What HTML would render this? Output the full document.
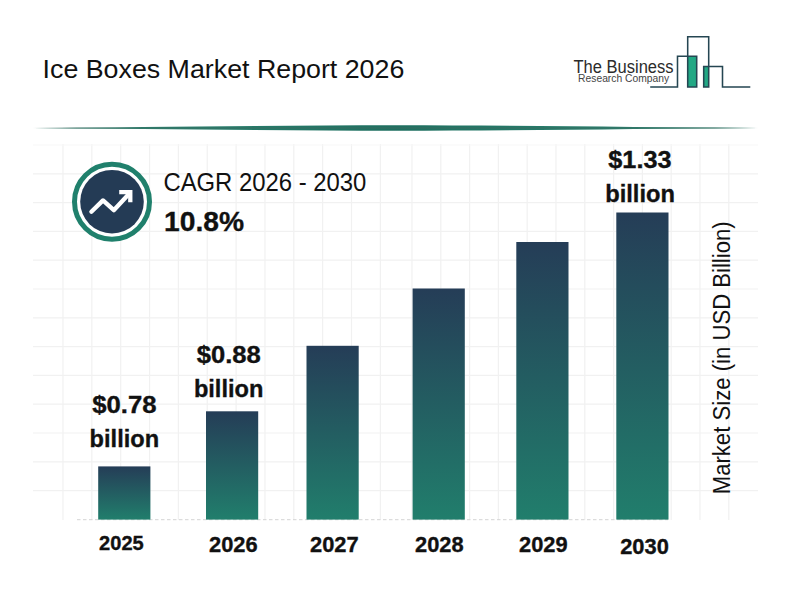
<!DOCTYPE html>
<html><head><meta charset="utf-8">
<style>
html,body{margin:0;padding:0;background:#fff;}
body{width:800px;height:600px;overflow:hidden;font-family:"Liberation Sans",sans-serif;}
svg{display:block;}
text{font-family:"Liberation Sans",sans-serif;fill:#111;}
.b{font-weight:700;stroke:#111;stroke-width:0.35px;}
</style></head><body>
<svg width="800" height="600" viewBox="0 0 800 600">
<defs>
<linearGradient id="bg" x1="0" y1="0" x2="0" y2="1">
<stop offset="0" stop-color="#253d57"/>
<stop offset="1" stop-color="#217e6c"/>
</linearGradient>
<linearGradient id="hl" x1="0" y1="0" x2="1" y2="0">
<stop offset="0" stop-color="#2f8a76"/>
<stop offset="0.5" stop-color="#1f6f60"/>
<stop offset="1" stop-color="#2f8a76"/>
</linearGradient>
<linearGradient id="hl2" x1="0" y1="0" x2="1" y2="0">
<stop offset="0" stop-color="#3a6b60" stop-opacity="0"/>
<stop offset="0.06" stop-color="#3a6b60" stop-opacity="0.9"/>
<stop offset="0.94" stop-color="#3a6b60" stop-opacity="0.9"/>
<stop offset="1" stop-color="#3a6b60" stop-opacity="0"/>
</linearGradient>
</defs>
<rect width="800" height="600" fill="#fff"/>
<g stroke="#f1f1f1" stroke-width="1.2" fill="none">
<line x1="63.00" y1="144" x2="63.00" y2="520"/>
<line x1="91.85" y1="144" x2="91.85" y2="520"/>
<line x1="120.70" y1="144" x2="120.70" y2="520"/>
<line x1="149.55" y1="144" x2="149.55" y2="520"/>
<line x1="178.40" y1="144" x2="178.40" y2="520"/>
<line x1="207.25" y1="144" x2="207.25" y2="520"/>
<line x1="236.10" y1="144" x2="236.10" y2="520"/>
<line x1="264.95" y1="144" x2="264.95" y2="520"/>
<line x1="293.80" y1="144" x2="293.80" y2="520"/>
<line x1="322.65" y1="144" x2="322.65" y2="520"/>
<line x1="351.50" y1="144" x2="351.50" y2="520"/>
<line x1="380.35" y1="144" x2="380.35" y2="520"/>
<line x1="412.00" y1="144" x2="412.00" y2="520"/>
<line x1="440.80" y1="144" x2="440.80" y2="520"/>
<line x1="469.60" y1="144" x2="469.60" y2="520"/>
<line x1="498.40" y1="144" x2="498.40" y2="520"/>
<line x1="527.20" y1="144" x2="527.20" y2="520"/>
<line x1="556.00" y1="144" x2="556.00" y2="520"/>
<line x1="584.80" y1="144" x2="584.80" y2="520"/>
<line x1="613.60" y1="144" x2="613.60" y2="520"/>
<line x1="642.40" y1="144" x2="642.40" y2="520"/>
<line x1="671.20" y1="144" x2="671.20" y2="520"/>
<line x1="700.00" y1="144" x2="700.00" y2="520"/>
<line x1="728.80" y1="144" x2="728.80" y2="520"/>
<line x1="33" y1="145.00" x2="758" y2="145.00" stroke="#f8f8f8"/>
<line x1="33" y1="173.80" x2="758" y2="173.80"/>
<line x1="33" y1="202.60" x2="758" y2="202.60"/>
<line x1="33" y1="231.40" x2="758" y2="231.40"/>
<line x1="33" y1="260.20" x2="758" y2="260.20"/>
<line x1="33" y1="289.00" x2="758" y2="289.00"/>
<line x1="33" y1="317.80" x2="758" y2="317.80"/>
<line x1="33" y1="346.60" x2="758" y2="346.60"/>
<line x1="33" y1="375.40" x2="758" y2="375.40"/>
<line x1="33" y1="404.20" x2="758" y2="404.20"/>
<line x1="33" y1="433.00" x2="758" y2="433.00"/>
<line x1="33" y1="461.80" x2="758" y2="461.80"/>
<line x1="33" y1="490.60" x2="758" y2="490.60"/>
</g>
<!-- header line -->
<path d="M33,128 C150,127.2 280,125.2 396,125.2 C512,125.2 640,127.2 758,128 C640,128.8 512,130.8 396,130.8 C280,130.8 150,128.8 33,128 Z" fill="url(#hl)"/>
<rect x="33" y="127.55" width="725" height="0.9" fill="url(#hl2)"/>
<!-- title -->
<text x="42.6" y="78" font-size="26.5" textLength="361.7" lengthAdjust="spacingAndGlyphs">Ice Boxes Market Report 2026</text>
<!-- logo -->
<g fill="none" stroke="#254652" stroke-width="1.55" stroke-linejoin="miter">
<rect x="687.7" y="56.3" width="9" height="30.7" fill="#22a884" stroke="none"/>
<rect x="703.7" y="66.5" width="5" height="20.5" fill="#22a884" stroke="none"/>
<path d="M650.2,87 H677.5 V56.2 H696.7 V87 H687.7 V36.8 H708.7 V87 H703.7 V66.5 H722.5 V87 H750.3"/>
</g>
<text x="573.5" y="72.6" font-size="17.5" textLength="100" lengthAdjust="spacingAndGlyphs" style="fill:#2b2b2b">The Business</text>
<text x="578.1" y="82" font-size="10.2" textLength="91" lengthAdjust="spacingAndGlyphs" style="fill:#444">Research Company</text>
<!-- icon -->
<circle cx="112" cy="201.7" r="37.5" fill="#fff" stroke="#20806c" stroke-width="5"/>
<circle cx="112" cy="201.7" r="31.8" fill="#243b55"/>
<g fill="none" stroke="#fff" stroke-width="4.3">
<polyline points="91.4,211.8 103,200.4 113.8,210.2 128.9,194" stroke-linecap="round" stroke-linejoin="round"/>
<polyline points="119.2,192.2 130.3,192.2 130.3,202.3" stroke-linecap="butt" stroke-linejoin="miter"/>
</g>
<!-- CAGR -->
<text x="163.4" y="191" font-size="25.3" textLength="203" lengthAdjust="spacingAndGlyphs">CAGR 2026 - 2030</text>
<text class="b" x="164" y="231" font-size="28.3" textLength="80" lengthAdjust="spacingAndGlyphs">10.8%</text>
<!-- baseline -->
<line x1="77" y1="519.7" x2="668" y2="519.7" stroke="#d4d4d4" stroke-width="1" stroke-dasharray="3.5 2.5"/>
<!-- bars -->
<rect x="98.2" y="466.4" width="52.2" height="53.2" fill="url(#bg)"/>
<rect x="206.0" y="411.3" width="52.2" height="108.3" fill="url(#bg)"/>
<rect x="306.5" y="345.8" width="52.2" height="173.8" fill="url(#bg)"/>
<rect x="412.6" y="288.5" width="52.2" height="231.1" fill="url(#bg)"/>
<rect x="516.3" y="242" width="52.2" height="277.6" fill="url(#bg)"/>
<rect x="616.3" y="212.5" width="52.2" height="307.1" fill="url(#bg)"/>
<!-- bar labels -->
<text class="b" x="92.3" y="413" font-size="23.4" textLength="64.2" lengthAdjust="spacingAndGlyphs">$0.78</text>
<text class="b" x="89.6" y="447" font-size="24" textLength="69.5" lengthAdjust="spacingAndGlyphs">billion</text>
<text class="b" x="196.8" y="363" font-size="23.4" textLength="64" lengthAdjust="spacingAndGlyphs">$0.88</text>
<text class="b" x="193.9" y="397" font-size="24" textLength="69.5" lengthAdjust="spacingAndGlyphs">billion</text>
<text class="b" x="608.3" y="167.5" font-size="23.4" textLength="63.2" lengthAdjust="spacingAndGlyphs">$1.33</text>
<text class="b" x="605.2" y="201.7" font-size="24" textLength="69.7" lengthAdjust="spacingAndGlyphs">billion</text>
<!-- years -->
<text class="b" x="99.1" y="550.4" font-size="19.4" textLength="44.6" lengthAdjust="spacingAndGlyphs">2025</text>
<text class="b" x="209" y="552.4" font-size="21.8" textLength="48.6" lengthAdjust="spacingAndGlyphs">2026</text>
<text class="b" x="310" y="552.4" font-size="21.8" textLength="48.6" lengthAdjust="spacingAndGlyphs">2027</text>
<text class="b" x="415" y="552" font-size="21.8" textLength="48.6" lengthAdjust="spacingAndGlyphs">2028</text>
<text class="b" x="519" y="551.6" font-size="21.8" textLength="48.6" lengthAdjust="spacingAndGlyphs">2029</text>
<text class="b" x="620.2" y="553.6" font-size="21.8" textLength="48.6" lengthAdjust="spacingAndGlyphs">2030</text>
<!-- y axis label -->
<text transform="translate(729.5,494.3) rotate(-90)" font-size="23" textLength="273" lengthAdjust="spacingAndGlyphs">Market Size (in USD Billion)</text>
</svg>
</body></html>
